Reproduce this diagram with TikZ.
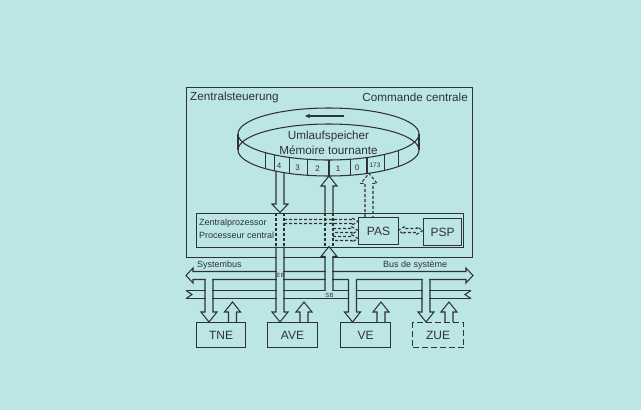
\documentclass[tikz,border=0pt]{standalone}
\usepackage{fontspec}
\setmainfont{Liberation Sans}
\usetikzlibrary{arrows.meta}
\definecolor{paper}{RGB}{188,229,230}
\definecolor{ink}{RGB}{48,50,50}

\tikzset{
  ln/.style={draw=ink, line width=1.05pt},
  dsh/.style={dash pattern=on 3pt off 2pt},
  box/.style={ln, inner sep=0pt, text=ink, font=\fontsize{12}{14}\selectfont},
  lab/.style={text=ink, inner sep=0pt, font=\fontsize{11.7}{13}\selectfont},
  small/.style={text=ink, inner sep=0pt, font=\fontsize{9}{10}\selectfont},
  tiny/.style={text=ink, inner sep=0pt, font=\fontsize{6}{7}\selectfont},
  cell/.style={text=ink, inner sep=0pt, font=\fontsize{8}{9}\selectfont},
  gap/.style={fill=paper, draw=none},
}

% hollow vertical arrow: [options]{x}{tail y}{tip y}
\newcommand{\VArrow}[4][]{%
  \pgfmathsetmacro{\vahb}{#4+10*sign(#3-#4)}%
  \draw[ln,#1] ({#2-4},#3) -- ({#2-4},\vahb) -- ({#2-8},\vahb) -- (#2,#4)
     -- ({#2+8},\vahb) -- ({#2+4},\vahb) -- ({#2+4},#3);}
% hollow dashed horizontal arrow: [options]{y}{tail x}{tip x}
\newcommand{\HArrow}[4][]{%
  \pgfmathsetmacro{\hahb}{#4-6*sign(#4-#3)}%
  \draw[ln,dsh,#1] (#3,{#2-2}) -- (\hahb,{#2-2}) -- (\hahb,{#2-3.6}) -- (#4,#2)
     -- (\hahb,{#2+3.6}) -- (\hahb,{#2+2}) -- (#3,{#2+2});}

\begin{document}
\begin{tikzpicture}[x=1pt,y=-1pt]
\useasboundingbox (0,0) rectangle (641,410);
\fill[paper] (0,0) rectangle (641,410);

% central control unit
\node[box, anchor=north west, minimum width=286pt, minimum height=170pt] (ctrl) at (186,87) {};
\node[lab, anchor=west] (tz) at (190,97.5) {Zentralsteuerung};
\node[lab, anchor=east] (tc) at (468,97.5) {Commande centrale};

% rotating memory ring
\draw[ln] (328.5,134) ellipse [x radius=90.5pt, y radius=26pt];
\draw[ln] (328.5,150) ellipse [x radius=90.5pt, y radius=26pt];
\draw[ln] (238,134) -- (238,150);
\draw[ln] (419,134) -- (419,150);
\foreach \a in {134.2,126.6,115.5,103.2,89.7,76.2,51.8,39.5}
  {\draw[ln] ({328.5+90.5*cos(\a)},{134+26*sin(\a)}) -- ++(0,16);}
\draw[ink, line width=1.8pt] ({328.5+90.5*cos(64.8)},{134+26*sin(64.8)}) -- ++(0,16);
\draw[ink, line width=1.3pt, -{Stealth[length=5pt,width=4.5pt]}] (344,116) -- (305,116);
\node[lab] (um) at (328.5,136.5) {Umlaufspeicher};
\node[lab] (mt) at (328.5,150) {Mémoire tournante};
\node[cell] (c4) at (279,165.5) {4};
\node[cell] (c3) at (297.5,167.5) {3};
\node[cell] (c2) at (317.5,169) {2};
\node[cell] (c1) at (338,169) {1};
\node[cell] (c0) at (357,167.8) {0};
\node[tiny, font=\fontsize{6.5}{7}\selectfont] (c173) at (375,165.5) {173};

% central processor
\node[box, anchor=north west, minimum width=267pt, minimum height=34pt] (proc) at (196,212.5) {};
\node[small, anchor=west] (tp1) at (199,223) {Zentralprozessor};
\node[small, anchor=west] (tp2) at (199,235.5) {Processeur central};
\node[box, anchor=north west, minimum width=40pt, minimum height=27pt] (pas) at (358,217) {PAS};
\node[box, anchor=north west, minimum width=38pt, minimum height=27pt] (psp) at (423,218) {PSP};

% system buses
\node[small, anchor=west] (sb1) at (197,265.5) {Systembus};
\node[small, anchor=west] (sb2) at (383,265.5) {Bus de système};
\draw[ln] (186,275.5) -- (193,268) -- (193,271.5) -- (466,271.5) -- (466,268) -- (473,275.5)
  -- (466,283) -- (466,279.5) -- (193,279.5) -- (193,283) -- cycle;
\draw[ln] (186,290.5) -- (471,290.5);
\draw[ln] (186,298.5) -- (471,298.5);
\draw[ln] (186,290.5) -- (192,294.5) -- (186,298.5);
\draw[ln] (471,290.5) -- (465,294.5) -- (471,298.5);

% peripheral units
\node[box, anchor=north west, minimum width=49pt, minimum height=25pt] (tne) at (196,322) {TNE};
\node[box, anchor=north west, minimum width=50pt, minimum height=25pt] (ave) at (267,322) {AVE};
\node[box, anchor=north west, minimum width=50pt, minimum height=25pt] (ve) at (340,322) {VE};
\node[box, dash pattern=on 6pt off 3pt, anchor=north west, minimum width=51pt, minimum height=25pt] (zue) at (412,322) {ZUE};

% output lines from bus 1 down to the units
\foreach \x in {209,352.5,426} {
  \fill[gap] ({\x-3.4},278) rectangle ({\x+3.4},281);
  \fill[gap] ({\x-3.4},289) rectangle ({\x+3.4},300);
  \VArrow{\x}{279.5}{322}
}
% input lines from the units up to bus 2
\foreach \x in {232.5,304,381,449} {
  \VArrow{\x}{322}{302}
}

% EB: ring -> processor -> bus -> AVE
\draw[ln] (276,171.2) -- (276,204) -- (272,204) -- (280,212.5) -- (288,204) -- (284,204) -- (284,172.6);
\draw[ln,dsh] (276,212.5) -- (276,246.5);
\draw[ln,dsh] (284,212.5) -- (284,246.5);
\fill[gap] (276.6,250) rectangle (283.4,300);
\VArrow{280}{246.5}{322}
\node[tiny] (eb) at (280.5,275.5) {EB};

% SB: bus 2 -> processor -> ring
\fill[gap] (325.6,257) rectangle (332.4,291);
\VArrow{329}{290.5}{246.5}
\draw[ln,dsh] (325,212.5) -- (325,246.5);
\draw[ln,dsh] (333,212.5) -- (333,246.5);
\VArrow{329}{212.5}{176}
\node[tiny] (sbl) at (329.5,295) {SB};

% dashed transfers inside the processor
\HArrow{221.5}{284}{358}
\HArrow{230.5}{333}{358}
\HArrow{238.5}{333}{358}
\VArrow[dsh]{369}{217}{173.3}
\draw[ln,dsh] (398,230.5) -- (404,226.9) -- (404,228.5) -- (417,228.5) -- (417,226.9) -- (423,230.5)
  -- (417,234.1) -- (417,232.5) -- (404,232.5) -- (404,234.1) -- cycle;
\end{tikzpicture}
\end{document}
